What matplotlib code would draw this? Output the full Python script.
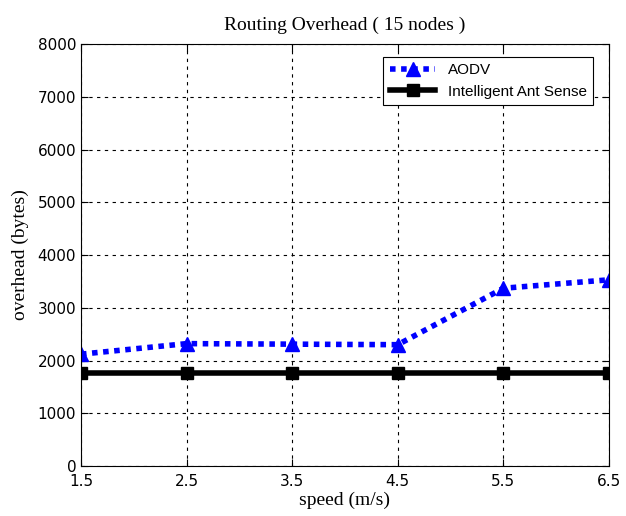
import matplotlib.pyplot as plt

speed = [1.5, 2.5, 3.5, 4.5, 5.5, 6.5]
aodv = [2120, 2320, 2310, 2300, 3370, 3530]
ant_sense = [1760, 1760, 1760, 1760, 1760, 1760]

fig = plt.figure(figsize=(6.26, 5.16), dpi=100)
ax = fig.add_axes([0.1294, 0.0969, 0.8434, 0.8178])

ax.plot(speed, aodv, linestyle=(0, (1, 1)), dash_capstyle="butt",
        color="blue", linewidth=4, marker="^", markersize=10,
        markerfacecolor="blue", label="AODV")
ax.plot(speed, ant_sense, linestyle="-", color="black", linewidth=4,
        marker="s", markersize=9, markerfacecolor="black",
        label="Intelligent Ant Sense")

ax.set_xlim(1.5, 6.5)
ax.set_ylim(0, 8000)
ax.set_xticks(speed)
ax.set_yticks(range(0, 8001, 1000))
ax.grid(True, color="black", linestyle=(0, (3, 4)), linewidth=0.8)
ax.tick_params(direction="in", length=5, labelsize=11, top=True, right=True)
ax.tick_params(axis="x", pad=6)

ax.set_title("Routing Overhead ( 15 nodes )", family="Liberation Serif",
             fontsize=14, pad=10)
ax.set_xlabel("speed (m/s)", family="Liberation Serif", fontsize=14, labelpad=2)
ax.set_ylabel("overhead (bytes)", family="Liberation Serif", fontsize=14, labelpad=6)

leg = ax.legend(loc="upper right", bbox_to_anchor=(0.978, 0.98),
                prop={"family": "Liberation Sans", "size": 11},
                fancybox=False, edgecolor="black", framealpha=1,
                handlelength=3, borderaxespad=0.3)
leg.get_frame().set_linewidth(0.8)

fig.savefig("out.png", dpi=100)
